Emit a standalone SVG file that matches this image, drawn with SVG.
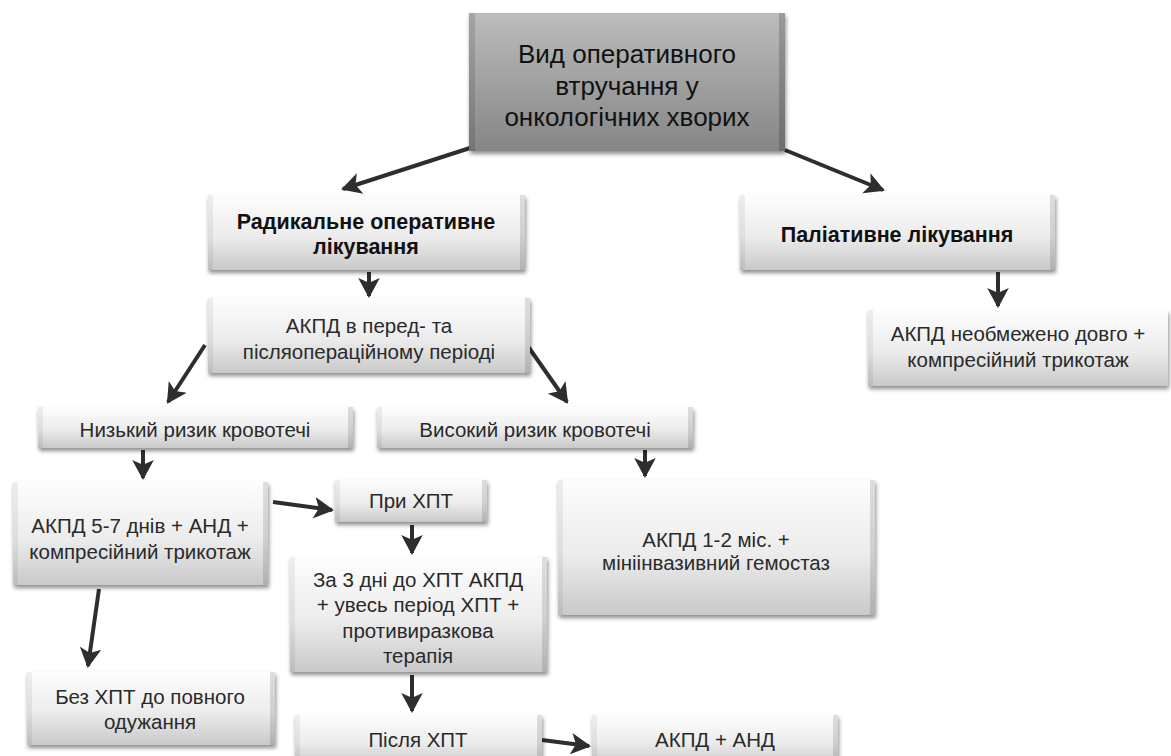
<svg xmlns="http://www.w3.org/2000/svg" width="1171" height="756" viewBox="0 0 1171 756">
<style>
.t{font-family:"Liberation Sans",Arial,sans-serif;font-size:20.5px;fill:#2a2a2a;text-anchor:middle}
.b{font-weight:bold;font-size:21.5px;fill:#111}
.big{font-size:26px;fill:#111}
.box{fill:url(#g);filter:url(#sh)}
.c{stroke:#2e2e2e;stroke-width:4;fill:none;marker-end:url(#ah)}
.sl{fill:#000;opacity:0.06}
.sr{fill:#000;opacity:0.12}
</style>
<defs>
<linearGradient id="g" x1="0" y1="0" x2="0" y2="1">
<stop offset="0" stop-color="#fdfdfd"/><stop offset="0.55" stop-color="#ececec"/><stop offset="1" stop-color="#c9c9c9"/>
</linearGradient>
<linearGradient id="gd" x1="0" y1="0" x2="0" y2="1">
<stop offset="0" stop-color="#bcbcbc"/><stop offset="1" stop-color="#858585"/>
</linearGradient>
<filter id="sh" x="-5%" y="-10%" width="110%" height="130%">
<feGaussianBlur in="SourceAlpha" stdDeviation="2"/><feOffset dx="1" dy="3"/>
<feComponentTransfer><feFuncA type="linear" slope="0.45"/></feComponentTransfer>
<feMerge><feMergeNode/><feMergeNode in="SourceGraphic"/></feMerge>
</filter>
<marker id="ah" markerWidth="6" markerHeight="6" refX="4.5" refY="3" orient="auto" markerUnits="strokeWidth">
<path d="M0,0.3 L5,3 L0,5.7 L1.2,3 Z" fill="#2e2e2e"/>
</marker>
</defs>
<g id="connectors">
<line class="c" x1="470" y1="148" x2="343" y2="189"/>
<line class="c" x1="785" y1="150" x2="883" y2="190"/>
<line class="c" x1="369" y1="272" x2="369" y2="296"/>
<line class="c" x1="998" y1="272" x2="998" y2="306"/>
<line class="c" x1="205" y1="345" x2="168" y2="402"/>
<line class="c" x1="527" y1="345" x2="567" y2="402"/>
<line class="c" x1="143" y1="450" x2="143" y2="478"/>
<line class="c" x1="645" y1="450" x2="645" y2="476"/>
<line class="c" x1="273" y1="502" x2="332" y2="510"/>
<line class="c" x1="412" y1="525" x2="412" y2="553"/>
<line class="c" x1="412" y1="675" x2="412" y2="711"/>
<line class="c" x1="542" y1="740" x2="589" y2="746"/>
<line class="c" x1="99" y1="589" x2="88" y2="666"/>
</g>
<g id="n-main">
<rect x="469" y="13" width="316" height="138" fill="url(#gd)" filter="url(#sh)"/>
<rect x="469" y="13" width="6" height="138" fill="#000" opacity="0.12"/>
<rect x="779" y="13" width="6" height="138" fill="#000" opacity="0.18"/>
<text class="t big" x="627" y="63">Вид оперативного</text>
<text class="t big" x="627" y="95">втручання у</text>
<text class="t big" x="627" y="126">онкологічних хворих</text>
</g>
<g id="n-radical">
<rect class="box" x="208" y="195" width="317" height="75"/>
<rect class="sl" x="208" y="195" width="5" height="75"/><rect class="sr" x="520" y="195" width="5" height="75"/>
<text class="t b" x="366" y="229">Радикальне оперативне</text>
<text class="t b" x="366" y="254">лікування</text>
</g>
<g id="n-pall">
<rect class="box" x="740" y="195" width="315" height="75"/>
<rect class="sl" x="740" y="195" width="5" height="75"/><rect class="sr" x="1050" y="195" width="5" height="75"/>
<text class="t b" x="897" y="242">Паліативне лікування</text>
</g>
<g id="n-unlim">
<rect class="box" x="868" y="310" width="300" height="76"/>
<rect class="sl" x="868" y="310" width="5" height="76"/>
<text class="t" x="1018" y="341">АКПД необмежено довго +</text>
<text class="t" x="1018" y="367">компресійний трикотаж</text>
</g>
<g id="n-pre">
<rect class="box" x="208" y="298" width="322" height="75"/>
<rect class="sl" x="208" y="298" width="5" height="75"/><rect class="sr" x="525" y="298" width="5" height="75"/>
<text class="t" x="369" y="333">АКПД в перед- та</text>
<text class="t" x="369" y="359">післяопераційному періоді</text>
</g>
<g id="n-low">
<rect class="box" x="38" y="407" width="315" height="41"/>
<rect class="sl" x="38" y="407" width="5" height="41"/><rect class="sr" x="348" y="407" width="5" height="41"/>
<text class="t" x="195" y="437">Низький ризик кровотечі</text>
</g>
<g id="n-high">
<rect class="box" x="377" y="407" width="316" height="41"/>
<rect class="sl" x="377" y="407" width="5" height="41"/><rect class="sr" x="688" y="407" width="5" height="41"/>
<text class="t" x="535" y="437">Високий ризик кровотечі</text>
</g>
<g id="n-57">
<rect class="box" x="13" y="482" width="255" height="103"/>
<rect class="sl" x="13" y="482" width="5" height="103"/><rect class="sr" x="263" y="482" width="5" height="103"/>
<text class="t" x="140" y="533">АКПД 5-7 днів + АНД +</text>
<text class="t" x="140" y="559">компресійний трикотаж</text>
</g>
<g id="n-pri">
<rect class="box" x="335" y="480" width="152" height="42"/>
<rect class="sl" x="335" y="480" width="5" height="42"/><rect class="sr" x="482" y="480" width="5" height="42"/>
<text class="t" x="411" y="508">При ХПТ</text>
</g>
<g id="n-za3">
<rect class="box" x="290" y="557" width="257" height="115"/>
<rect class="sl" x="290" y="557" width="5" height="115"/><rect class="sr" x="542" y="557" width="5" height="115"/>
<text class="t" x="418" y="587">За 3 дні до ХПТ АКПД</text>
<text class="t" x="418" y="612">+ увесь період ХПТ +</text>
<text class="t" x="418" y="638">противиразкова</text>
<text class="t" x="418" y="663">терапія</text>
</g>
<g id="n-12">
<rect class="box" x="558" y="480" width="317" height="135"/>
<rect class="sl" x="558" y="480" width="5" height="135"/><rect class="sr" x="870" y="480" width="5" height="135"/>
<text class="t" x="716" y="547">АКПД 1-2 міс. +</text>
<text class="t" x="716" y="570">мініінвазивний гемостаз</text>
</g>
<g id="n-bez">
<rect class="box" x="27" y="672" width="248" height="73"/>
<rect class="sl" x="27" y="672" width="5" height="73"/><rect class="sr" x="270" y="672" width="5" height="73"/>
<text class="t" x="150" y="704">Без ХПТ до повного</text>
<text class="t" x="150" y="729">одужання</text>
</g>
<g id="n-pislia">
<rect class="box" x="295" y="715" width="247" height="50"/>
<rect class="sl" x="295" y="715" width="5" height="50"/><rect class="sr" x="537" y="715" width="5" height="50"/>
<text class="t" x="418" y="747">Після ХПТ</text>
</g>
<g id="n-and">
<rect class="box" x="592" y="715" width="246" height="50"/>
<rect class="sl" x="592" y="715" width="5" height="50"/><rect class="sr" x="833" y="715" width="5" height="50"/>
<text class="t" x="715" y="747">АКПД + АНД</text>
</g>
</svg>
